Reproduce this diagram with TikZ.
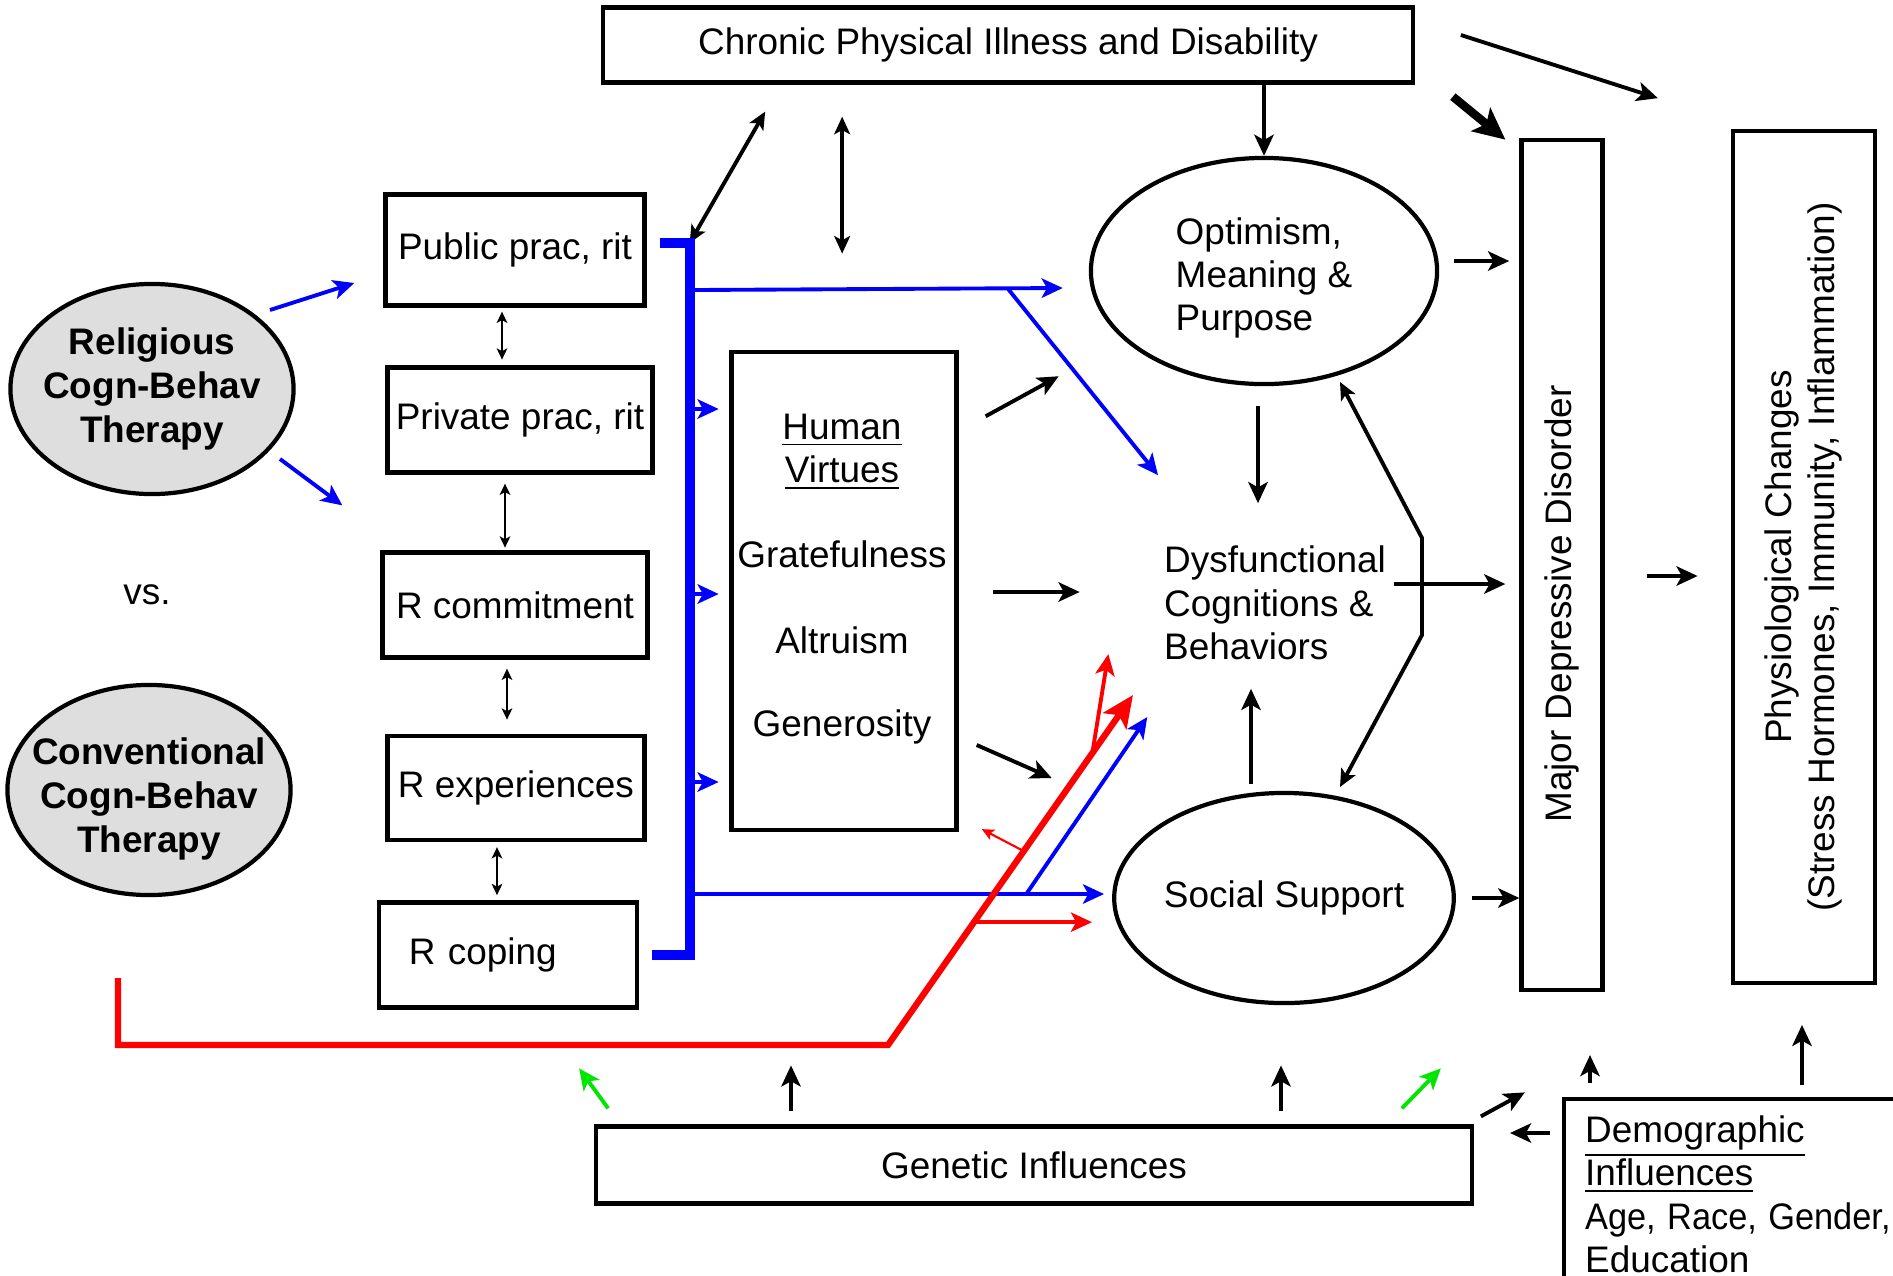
\documentclass[tikz,border=0pt]{standalone}
\usepackage{fontspec}
\setmainfont{Liberation Sans}
\definecolor{relblue}{RGB}{0,0,255}
\definecolor{convred}{RGB}{255,0,0}
\definecolor{genegreen}{RGB}{0,230,0}
\definecolor{therapygray}{RGB}{222,222,222}
\usetikzlibrary{arrows.meta,positioning,shapes.geometric,calc}

\begin{document}
\begin{tikzpicture}[x=0.01cm,y=-0.01cm,font=\fontsize{10.5}{12.3}\selectfont,
  box/.style={draw,line width=1.2pt,inner sep=0pt,align=center},
  oval/.style={draw,ellipse,line width=1.2pt,inner sep=0pt,align=center},
  therapy/.style={oval,fill=therapygray,inner xsep=-0.2cm,minimum width=2.83cm,minimum height=2.1cm,font=\fontsize{10.5}{12.6}\selectfont\bfseries},
  arr/.style={-{Stealth[length=6pt,width=5.5pt,inset=1.5pt]},line width=1.1pt},
  bigarr/.style={-{Stealth[length=9pt,width=8.5pt,inset=2pt]},line width=2.4pt},
  both/.style={{Stealth[length=5pt,width=4.5pt,inset=1.2pt]}-{Stealth[length=5pt,width=4.5pt,inset=1.2pt]},line width=1.1pt},
  twoway/.style={{Stealth[length=3.2pt,width=3pt,inset=0.8pt]}-{Stealth[length=3.2pt,width=3pt,inset=0.8pt]},line width=0.6pt},
  bluebar/.style={relblue,line width=2.8pt},
  bluearr/.style={arr,relblue},
  redbar/.style={-{Stealth[length=9pt,width=8pt,inset=2pt]},convred,line width=1.8pt},
  redarr/.style={arr,convred},
  redthin/.style={-{Stealth[length=3.5pt,width=3.2pt,inset=0.8pt]},convred,line width=0.6pt},
  greenarr/.style={arr,genegreen}]
  \useasboundingbox (0,0) rectangle (1893,1275);

  \node[box,minimum width=8.09cm,minimum height=0.75cm] (chron) at (1008,45) {Chronic Physical Illness and Disability};
  \node[therapy] (rel) at (152,389) {Religious\\Cogn-Behav\\Therapy};
  \node (vs) at (147,595) {vs.};
  \node[therapy] (conv) at (149,790) {\rule{0pt}{12.7pt}Conventional\\Cogn-Behav\\Therapy};

  \node[box,minimum width=2.59cm,minimum height=1.11cm] (pub) at (515,250) {Public prac, rit};
  \node[box,minimum width=2.65cm,minimum height=1.05cm] (priv) at (520,420) {Private prac, rit};
  \node[box,minimum width=2.65cm,minimum height=1.05cm] (comm) at (515,605) {R commitment};
  \node[box,minimum width=2.57cm,minimum height=1.04cm] (exper) at (516,788) {R experiences};
  \node[box,minimum height=1.05cm,text width=1.98cm,inner xsep=0.3cm,align=left] (cope) at (508,955) {R coping};

  \node[box,minimum width=2.25cm,minimum height=4.77cm] (virt) at (844,591) {};
  \node[align=center] (virtname) at (842,452) {\underline{Human}\\\underline{Virtues}};
  \node (grate) at (842,554) {Gratefulness};
  \node (altr) at (842,640) {Altruism};
  \node (gener) at (842,727) {Generosity};

  \node[oval,minimum width=3.46cm,minimum height=2.26cm,align=left] (opt) at (1264,271) {\rule{0pt}{11.5pt}Optimism,\\Meaning \&\\Purpose};
  \node[align=left] (dys) at (1275,603) {Dysfunctional\\Cognitions \&\\Behaviors};
  \node[oval,minimum width=3.35cm,minimum height=2.1cm] (soc) at (1284,898) {Social Support};
  \node[box,minimum width=0.81cm,minimum height=8.5cm] (mdd) at (1562,565) {\rotatebox{90}{Major Depressive Disorder\hspace*{0.78cm}}};
  \node[box,minimum width=1.42cm,minimum height=8.51cm] (phys) at (1804,557) {\rotatebox{90}{\begin{tabular}{@{}c@{}}Physiological Changes\\(Stress Hormones, Immunity, Inflammation)\end{tabular}}};
  \node[box,minimum width=8.75cm,minimum height=0.77cm] (gen) at (1034,1165) {Genetic Influences};
  \node[box,anchor=north west,minimum height=1.9cm,text width=3.6cm,inner xsep=0.21cm,align=left] (demo) at (1562,1097) {\underline{Demographic}\\\underline{Influences}\\\scalebox{0.93}[1]{Age, Race, Gender,}\\Education};

  \coordinate (bartop) at ([shift={(43,-7)}]pub.east);
  \coordinate (barbot) at (bartop |- cope.east);

  \draw[arr] (opt.north |- chron.south) -- (opt.north);
  \draw[both] ([shift={(164,27)}]chron.south west) -- (bartop);
  \draw[both] ([shift={(241,32)}]chron.south west) -- ++(0,137);
  \draw[arr] ([shift={(46,-10)}]chron.east) -- ([shift={(-73,-31)}]phys.north west);
  \draw[bigarr] ([shift={(38,12)}]chron.south east) -- ([shift={(-14,2)}]mdd.north west);
  \draw[arr] ([shift={(15,-10)}]opt.east) -- ++(55,0);
  \draw[arr] ([shift={(-6,20)}]opt.south) -- ++(0,97);
  \draw[both] ([shift={(76,111)}]opt.center) -- ++(82,156) -- ++(0,97) -- ([shift={(56,-111)}]soc.center);
  \draw[arr] ([shift={(-125,19)}]mdd.west) -- ++(111,0);
  \draw[arr] ([shift={(42,11)}]mdd.east) -- ++(51,0);
  \draw[arr] ([xshift=0.16cm]soc.east) -- (soc.east -| mdd.west);
  \draw[arr] ([shift={(-33,-7)}]soc.north) -- ++(0,-95);
  \draw[arr] ([shift={(27,66)}]virt.north east) -- ++(73,-40);
  \draw[arr] ([shift={(34,1)}]virt.east) -- ++(87,0);
  \draw[arr] ([shift={(18,154)}]virt.east) -- ++(75,33);

  \draw[twoway] ([shift={(-13,4)}]pub.south) -- ++(0,48);
  \draw[twoway] ([shift={(-15,9)}]priv.south) -- ++(0,64);
  \draw[twoway] ([shift={(-8,9)}]comm.south) -- ++(0,51);
  \draw[twoway] ([shift={(-19,5)}]exper.south) -- ++(0,48);

  \draw[bluearr] ([shift={(118,-79)}]rel.center) -- ([shift={(-29,33)}]pub.west);
  \draw[bluearr] ([shift={(128,70)}]rel.center) -- ([shift={(-38,-45)}]comm.north west);
  \draw[bluebar] ([shift={(13,-7)}]pub.east) -- (bartop) -- (barbot) -- ([shift={(13,0)}]cope.east);
  \draw[bluearr] ($(bartop |- virt.west)+(5,-182)$) -- ++(24,0);
  \draw[bluearr] ($(bartop |- virt.west)+(5,3)$) -- ++(24,0);
  \draw[bluearr] ($(bartop |- virt.west)+(5,191)$) -- ++(24,0);
  \draw[bluearr] ([shift={(5,47)}]bartop) -- coordinate[pos=0.85] (optfork) ([shift={(-26,17)}]opt.west);
  \draw[bluearr] (optfork) -- ([shift={(-106,89)}]opt.south);
  \draw[bluearr] ([shift={(5,-61)}]barbot) -- coordinate[pos=0.81] (socfork) ([shift={(-8,-4)}]soc.west);
  \draw[bluearr] (socfork) -- ++(121,-177);

  \draw[redbar] ([shift={(-31,188)}]conv.center) -- ++(0,67) -- ++(770,0) -- coordinate[pos=0.351] (redsoc) coordinate[pos=0.554] (redvirt) coordinate[pos=0.834] (reddys) ([shift={(-151,-203)}]soc.center);
  \draw[redarr] (redsoc) -- ++(118,0);
  \draw[redthin] (redvirt) -- ++(-42,-22);
  \draw[redarr] (reddys) -- ++(16,-99);

  \draw[greenarr] ([shift={(14,-16)}]gen.north west) -- ++(-29,-40);
  \draw[greenarr] ([shift={(-72,-16)}]gen.north east) -- ++(39,-40);
  \draw[arr] ([shift={(-243,-13)}]gen.north) -- ++(0,-46);
  \draw[arr] ([shift={(247,-13)}]gen.north) -- ++(0,-46);
  \draw[arr] ([shift={(7,-8)}]gen.north east) -- ++(44,-24);
  \draw[arr] ([shift={(-12,36)}]demo.north west) -- ++(-40,0);
  \draw[arr] ([shift={(28,-14)}]demo.north west) -- ++(0,-28);
  \draw[arr] ([shift={(240,-12)}]demo.north west) -- ([shift={(-2,40)}]phys.south);
\end{tikzpicture}
\end{document}
